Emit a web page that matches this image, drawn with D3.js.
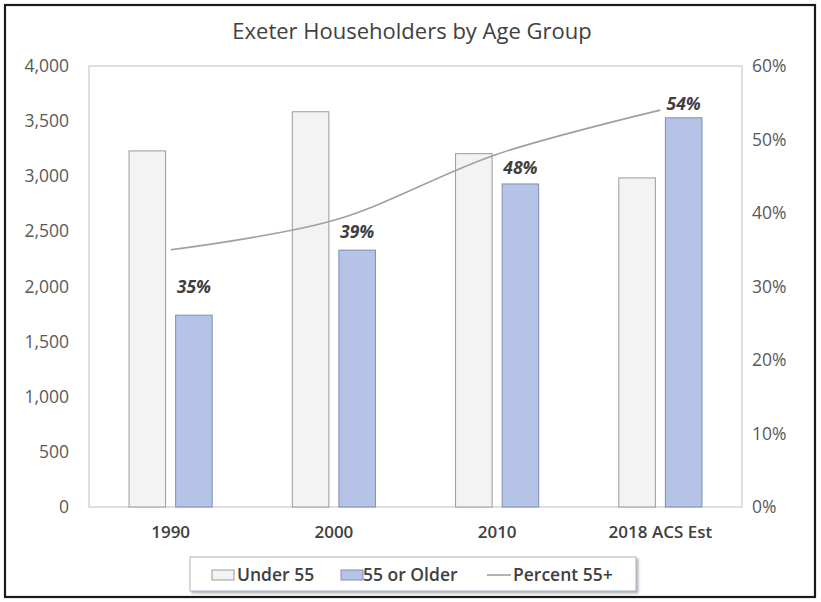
<!DOCTYPE html>
<html>
<head>
<meta charset="utf-8">
<script src="https://cdn.jsdelivr.net/npm/d3@7/dist/d3.min.js"></script>
<style>
  html, body { margin: 0; padding: 0; background: #ffffff; }
  svg { display: block; font-family: "Open Sans", Lato, sans-serif; }
</style>
</head>
<body>
<svg id="chart" width="821" height="602"></svg>
<script>
// ---- data ----
const title = "Exeter Householders by Age Group";
const categories = ["1990", "2000", "2010", "2018 ACS Est"];
const under55 = [3230, 3585, 3205, 2985];
const older55 = [1740, 2330, 2930, 3530];
const percent55 = [0.35, 0.39, 0.48, 0.54];
const percentLabels = ["35%", "39%", "48%", "54%"];
const seriesNames = ["Under 55", "55 or Older", "Percent 55+"];
const leftTicks = [0, 500, 1000, 1500, 2000, 2500, 3000, 3500, 4000];
const rightTicks = [0, 0.1, 0.2, 0.3, 0.4, 0.5, 0.6];

// ---- drawing ----
const FONT = "'Open Sans', Lato, sans-serif";
const svg = d3.select("#chart");
const plot = { left: 89, right: 742, top: 66, bottom: 507 };

// outer frame
svg.append("rect").attr("x", 5).attr("y", 5).attr("width", 810).attr("height", 592)
  .attr("fill", "#fff").attr("stroke", "#1a1a1a").attr("stroke-width", 2.2);

svg.append("text").attr("x", 412).attr("y", 39).attr("text-anchor", "middle")
  .attr("font-size", 22).attr("fill", "#404040").text(title);

const x0 = d3.scaleBand().domain(categories).range([plot.left, plot.right]).padding(0);
const x1 = d3.scaleBand().domain([0, 1]).range([0, x0.bandwidth()])
  .paddingInner(0.215).paddingOuter(0.86);
const yL = d3.scaleLinear().domain([0, 4000]).range([plot.bottom, plot.top]);
const yR = d3.scaleLinear().domain([0, 0.6]).range([plot.bottom, plot.top]);

// plot area border
svg.append("rect").attr("x", plot.left).attr("y", plot.top)
  .attr("width", plot.right - plot.left).attr("height", plot.bottom - plot.top)
  .attr("fill", "none").attr("stroke", "#c0c0c0").attr("stroke-width", 1);

// left axis
const fmt = d3.format(",");
const axL = svg.append("g").attr("transform", `translate(${plot.left},0)`)
  .call(d3.axisLeft(yL).tickValues(leftTicks).tickFormat(fmt).tickSize(0).tickPadding(20));
axL.select(".domain").remove();
axL.selectAll("text").attr("font-size", 17.5).attr("fill", "#595959").style("font-family", FONT);

// right axis
const axR = svg.append("g").attr("transform", `translate(${plot.right},0)`)
  .call(d3.axisRight(yR).tickValues(rightTicks).tickFormat(d3.format(".0%")).tickSize(0).tickPadding(10));
axR.select(".domain").remove();
axR.selectAll("text").attr("font-size", 17.5).attr("fill", "#595959").style("font-family", FONT);

// bottom axis
const axB = svg.append("g").attr("transform", `translate(0,${plot.bottom})`)
  .call(d3.axisBottom(x0).tickSize(0).tickPadding(19));
axB.select(".domain").remove();
axB.selectAll("text").attr("font-size", 17).attr("font-weight", 600).attr("fill", "#404040")
  .style("font-family", FONT);

// bars
const fills = ["#f3f3f3", "#b4c3e6"];
const strokes = ["#9a9a9a", "#7f8fb2"];
[under55, older55].forEach((vals, s) => {
  svg.append("g").selectAll("rect").data(vals).join("rect")
    .attr("x", (d, i) => x0(categories[i]) + x1(s))
    .attr("y", d => yL(d))
    .attr("width", x1.bandwidth())
    .attr("height", d => plot.bottom - yL(d))
    .attr("fill", fills[s]).attr("stroke", strokes[s]).attr("stroke-width", 1);
});

// line
const line = d3.line()
  .x((d, i) => x0(categories[i]) + x0.bandwidth() / 2)
  .y(d => yR(d))
  .curve(d3.curveCatmullRom.alpha(0.5));
svg.append("path").datum(percent55).attr("d", line)
  .attr("fill", "none").attr("stroke", "#a0a0a0").attr("stroke-width", 1.6);

// data labels (above the 55+ bars)
const labelGap = [22, 12, 10, 8];
svg.append("g").selectAll("text").data(percentLabels).join("text")
  .attr("x", (d, i) => x0(categories[i]) + x1(1) + x1.bandwidth() / 2)
  .attr("y", (d, i) => yL(older55[i]) - labelGap[i])
  .attr("text-anchor", "middle")
  .attr("font-size", 17.5).attr("font-weight", "bold").attr("font-style", "italic")
  .attr("fill", "#404040").text(d => d);

// legend
const defs = svg.append("defs");
const f = defs.append("filter").attr("id", "sh").attr("x", "-10%").attr("y", "-30%").attr("width", "120%").attr("height", "160%");
f.append("feDropShadow").attr("dx", 2).attr("dy", 2).attr("stdDeviation", 1.2)
  .attr("flood-color", "#808080").attr("flood-opacity", 0.6);
const lg = svg.append("g");
lg.append("rect").attr("x", 190).attr("y", 557).attr("width", 446).attr("height", 34)
  .attr("fill", "#fff").attr("stroke", "#a9b3c6").attr("stroke-width", 1).attr("filter", "url(#sh)");
const legendItems = [
  { type: "bar", x: 212, tx: 237, name: seriesNames[0], s: 0 },
  { type: "bar", x: 341, tx: 363, name: seriesNames[1], s: 1 },
  { type: "line", x: 487, tx: 513, name: seriesNames[2] }
];
legendItems.forEach(it => {
  if (it.type === "bar") {
    lg.append("rect").attr("x", it.x).attr("y", 570).attr("width", 22).attr("height", 10)
      .attr("fill", fills[it.s]).attr("stroke", strokes[it.s]).attr("stroke-width", 1);
  } else {
    lg.append("line").attr("x1", it.x).attr("x2", it.x + 24).attr("y1", 575).attr("y2", 575)
      .attr("stroke", "#a0a0a0").attr("stroke-width", 1.6);
  }
  lg.append("text").attr("x", it.tx).attr("y", 581).attr("font-size", 17.5)
    .attr("font-weight", 600).attr("fill", "#404040").text(it.name);
});
</script>
</body>
</html>
